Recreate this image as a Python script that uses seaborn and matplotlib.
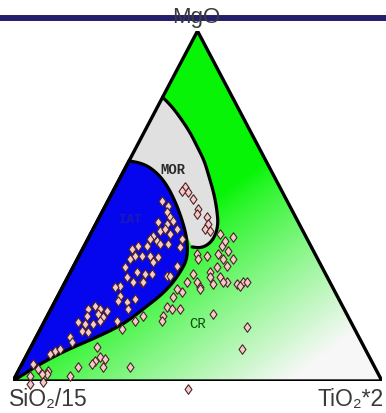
import numpy as np
import pandas as pd
import matplotlib
matplotlib.use("Agg")
import matplotlib.pyplot as plt
from matplotlib.patches import Polygon
from matplotlib.lines import Line2D
import seaborn as sns

# ---------------- data (ternary components, %) ----------------
mgo = [55.4, 54.0, 54.3, 52.0, 49.1, 47.7, 46.9, 44.9, 43.4, 42.9,
       51.4, 50.0, 48.3, 46.9, 45.7, 44.9, 45.4, 42.9, 43.4, 42.0,
       43.4, 40.6, 41.4, 40.6, 40.0, 39.1, 39.1, 38.3, 37.7, 38.6,
       38.6, 35.7, 35.7, 35.7, 35.4, 34.9, 34.0, 32.9, 32.6, 31.1,
       30.6, 30.6, 30.0, 30.0, 27.1, 29.7, 28.3, 36.3, 34.9, 35.7,
       36.3, 34.9, 34.9, 38.6, 37.1, 42.0, 41.1, 40.0, 32.9, 32.6,
       31.1, 30.6, 28.3, 28.3, 29.7, 29.7, 28.3, 27.7, 28.3, 28.3,
       26.9, 26.9, 24.3, 28.3, 28.3, 22.6, 22.9, 23.4, 20.6, 21.4,
       20.6, 20.0, 19.1, 18.3, 18.6, 16.9, 16.3, 16.3, 17.1, 14.3,
       14.0, 20.6, 17.1, 12.6, 11.1, 8.6, 9.1, 7.7, 4.9, 3.4,
       24.0, 25.4, 26.3, 26.3, 27.7, 28.3, 27.1, 21.1, 20.6, 20.6,
       18.6, 18.6, 17.1, 14.9, 17.1, 19.1, 15.4, 9.1, 9.7, 6.9,
       5.7, 6.3, 4.9, 4.0, 4.0, 4.0, 2.9, 2.0, 2.0, 1.4,
       1.4, -0.9, -0.3, -2.3]
tio2 = [18.9, 20.4, 18.7, 22.8, 25.5, 26.0, 29.2, 30.4, 30.3, 32.0,
        14.7, 17.0, 17.6, 19.1, 20.5, 19.3, 16.6, 18.4, 19.5, 21.5,
        22.7, 25.5, 17.2, 16.8, 19.0, 20.2, 22.4, 26.2, 13.3, 14.6,
        17.0, 15.2, 17.1, 19.2, 21.6, 14.3, 20.9, 28.0, 14.1, 18.0,
        20.5, 22.4, 26.7, 27.5, 15.4, 16.0, 20.9, 31.8, 32.7, 34.7,
        37.5, 39.5, 42.2, 37.3, 39.7, 35.1, 39.0, 37.5, 41.6, 39.0,
        37.8, 33.5, 33.1, 35.8, 38.5, 41.2, 43.9, 46.8, 48.2, 49.3,
        37.3, 14.2, 16.9, 18.4, 21.1, 19.6, 17.1, 21.4, 10.0, 11.5,
        13.3, 15.5, 13.4, 15.3, 10.8, 9.2, 11.4, 13.6, 15.0, 11.6,
        13.3, 20.9, 19.6, 9.1, 10.4, 7.1, 8.1, 6.1, 3.0, 5.1,
        31.4, 33.1, 31.3, 37.6, 40.3, 42.8, 47.9, 31.1, 32.8, 35.0,
        31.4, 25.9, 24.5, 22.1, 31.8, 44.6, 55.7, 57.5, 17.9, 20.2,
        19.3, 21.8, 19.0, 22.4, 15.6, 29.7, 8.1, 8.2, 6.9, 14.7,
        3.9, 5.0, 8.3, 48.5]
sio2 = [25.7, 25.6, 27.0, 25.2, 25.4, 26.3, 23.9, 24.7, 26.3, 25.1,
        33.9, 33.0, 34.1, 34.0, 33.8, 35.8, 38.0, 38.7, 37.1, 36.5,
        33.9, 33.9, 41.4, 42.6, 41.0, 40.7, 38.5, 35.5, 49.0, 46.8,
        44.4, 49.1, 47.2, 45.1, 43.0, 50.8, 45.1, 39.1, 53.3, 50.9,
        48.9, 47.0, 43.3, 42.5, 57.5, 54.3, 50.8, 31.9, 32.4, 29.6,
        26.2, 25.6, 22.9, 24.1, 23.2, 22.9, 19.9, 22.5, 25.5, 28.4,
        31.1, 35.9, 38.6, 35.9, 31.8, 29.1, 27.8, 25.5, 23.5, 22.4,
        35.8, 58.9, 58.8, 53.3, 50.6, 57.8, 60.0, 55.2, 69.4, 67.1,
        66.1, 64.5, 67.5, 66.4, 70.6, 73.9, 72.3, 70.1, 67.9, 74.1,
        72.7, 58.5, 63.3, 78.3, 78.5, 84.3, 82.8, 86.2, 92.1, 91.5,
        44.6, 41.5, 42.4, 36.1, 32.0, 28.9, 25.0, 47.8, 46.6, 44.4,
        50.0, 55.5, 58.4, 63.0, 51.1, 36.3, 28.9, 33.4, 72.4, 72.9,
        75.0, 71.9, 76.1, 73.6, 80.4, 66.3, 89.0, 89.8, 91.1, 83.9,
        94.7, 95.9, 92.0, 53.8]

# field boundaries (MgO %, TiO2 %)
mor_mgo = [81.1, 78.3, 74.9, 70.9, 66.9, 62.9, 58.3, 53.4, 48.6, 44.6, 41.1, 38.9, 38.0, 38.3]
mor_tio2 = [0.0, 4.0, 8.1, 12.6, 16.5, 20.4, 24.0, 27.8, 31.0, 33.3, 34.1, 33.4, 31.7, 29.4]
iat_mgo = [62.9, 62.3, 61.1, 58.6, 55.4, 51.4, 46.9, 42.0, 37.7, 34.3, 31.4, 27.7,
           24.3, 21.4, 18.3, 15.7, 12.3, 8.9, 4.9, 0.0]
iat_tio2 = [0.0, 3.3, 6.5, 10.5, 14.3, 18.2, 22.1, 25.9, 28.5, 29.8, 29.8, 29.2,
            27.7, 25.6, 23.4, 21.1, 16.1, 10.2, 4.9, 0.0]

field_labels = ["MOR", "IAT", "CR"]
field_lab_mgo = [60.6, 46.3, 16.6]
field_lab_tio2 = [13.1, 8.6, 41.6]

apex_labels = ["MgO", "SiO\u2082/15", "TiO\u2082*2"]


def to_xy(m, t):
    m = np.asarray(m, float) / 100.0
    t = np.asarray(t, float) / 100.0
    return t + m / 2.0, m


def chaikin(pts, n=3):
    pts = np.asarray(pts, float)
    for _ in range(n):
        new = [pts[0]]
        for p, q in zip(pts[:-1], pts[1:]):
            new.append(0.75 * p + 0.25 * q)
            new.append(0.25 * p + 0.75 * q)
        new.append(pts[-1])
        pts = np.array(new)
    return pts


sns.set_style("white")
plt.rcParams["font.family"] = ["Liberation Sans", "DejaVu Sans"]

W, H = 386, 414
fig = plt.figure(figsize=(W / 100, H / 100), dpi=100)
fig.patch.set_facecolor("white")
ax = fig.add_axes([13 / W, 32 / H, 369 / W, 350 / H])
ax.set_xlim(0, 1)
ax.set_ylim(0, 1)
ax.axis("off")

tri = np.array([[0, 0], [1, 0], [0.5, 1]])

# green -> white gradient background
N = 500
gx, gy = np.meshgrid(np.linspace(0, 1, N), np.linspace(0, 1, N))
px = 13 + gx * 369
py = 382 - gy * 350
d = 0.6 * px + 0.8 * py
f = np.clip((d - 290) / 190.0, 0, 1) ** 0.85
green = np.array([0.03, 0.96, 0.03])
white = np.array([0.97, 0.97, 0.97])
img = green[None, None, :] * (1 - f[..., None]) + white[None, None, :] * f[..., None]
im = ax.imshow(img, extent=(0, 1, 0, 1), origin="lower", interpolation="bilinear",
               zorder=1, aspect="auto")
clip_tri = Polygon(tri, closed=True, transform=ax.transData, facecolor="none", edgecolor="none")
ax.add_patch(clip_tri)
im.set_clip_path(clip_tri)

# MOR (grey) field
mx, my = to_xy(mor_mgo, mor_tio2)
mor_curve = chaikin(np.column_stack([mx, my]), 3)
ix, iy = to_xy(iat_mgo, iat_tio2)
iat_curve = chaikin(np.column_stack([ix, iy]), 3)
upper_iat = np.column_stack([ix[:8], iy[:8]])[::-1]
grey_poly = np.vstack([mor_curve, upper_iat])
ax.add_patch(Polygon(grey_poly, closed=True, facecolor="#e0e0e0", edgecolor="none", zorder=2))
ax.plot(mor_curve[:, 0], mor_curve[:, 1], color="black", lw=2.3, zorder=4,
        solid_capstyle="round")

# IAT (blue) field
ax.add_patch(Polygon(iat_curve, closed=True, facecolor="#0606ee", edgecolor="black",
                     lw=2.3, zorder=3))

# outer triangle
ax.add_patch(Polygon(tri, closed=True, facecolor="none", edgecolor="black", lw=2.4,
                     zorder=6, joinstyle="miter"))

# samples
sx, sy = to_xy(mgo, tio2)
df = pd.DataFrame({"x": sx, "y": sy, "SiO2": sio2})
diamond = [(0, 1), (0.72, 0), (0, -1), (-0.72, 0), (0, 1)]
sns.scatterplot(data=df, x="x", y="y", marker=diamond, s=48, color="#f7caca",
                edgecolor="#4a2626", linewidth=0.8, ax=ax, legend=False, zorder=7)
for c in ax.collections:
    c.set_clip_on(False)
ax.set_xlabel("")
ax.set_ylabel("")

# field labels
lx, ly = to_xy(field_lab_mgo, field_lab_tio2)
ax.text(lx[0], ly[0], field_labels[0], ha="center", va="center", fontsize=10,
        family="Liberation Mono", fontweight="bold", color="#2a2a2a", zorder=8)
ax.text(lx[1], ly[1], field_labels[1], ha="center", va="center", fontsize=9,
        family="Liberation Mono", fontweight="bold", color="#1a1ab4", zorder=4)
ax.text(lx[2], ly[2], field_labels[2], ha="center", va="center", fontsize=10,
        family="Liberation Mono", color="#0b4f0b", zorder=8)

# top bar and corner labels
fig.add_artist(Line2D([0, 1], [1 - 18.5 / H] * 2, transform=fig.transFigure,
                      lw=4.3, color="#241e6e", zorder=1))
fig.text(196 / W, 1 - 17 / H, apex_labels[0], ha="center", va="center", fontsize=16,
         color="#3a3a3a", zorder=5)
fig.text(9 / W, 1 - 400 / H, apex_labels[1], ha="left", va="center", fontsize=16.5,
         color="#3a3a3a")
fig.text(384 / W, 1 - 400 / H, apex_labels[2], ha="right", va="center", fontsize=16.5,
         color="#3a3a3a")

fig.savefig("out.png", dpi=100, facecolor="white")
